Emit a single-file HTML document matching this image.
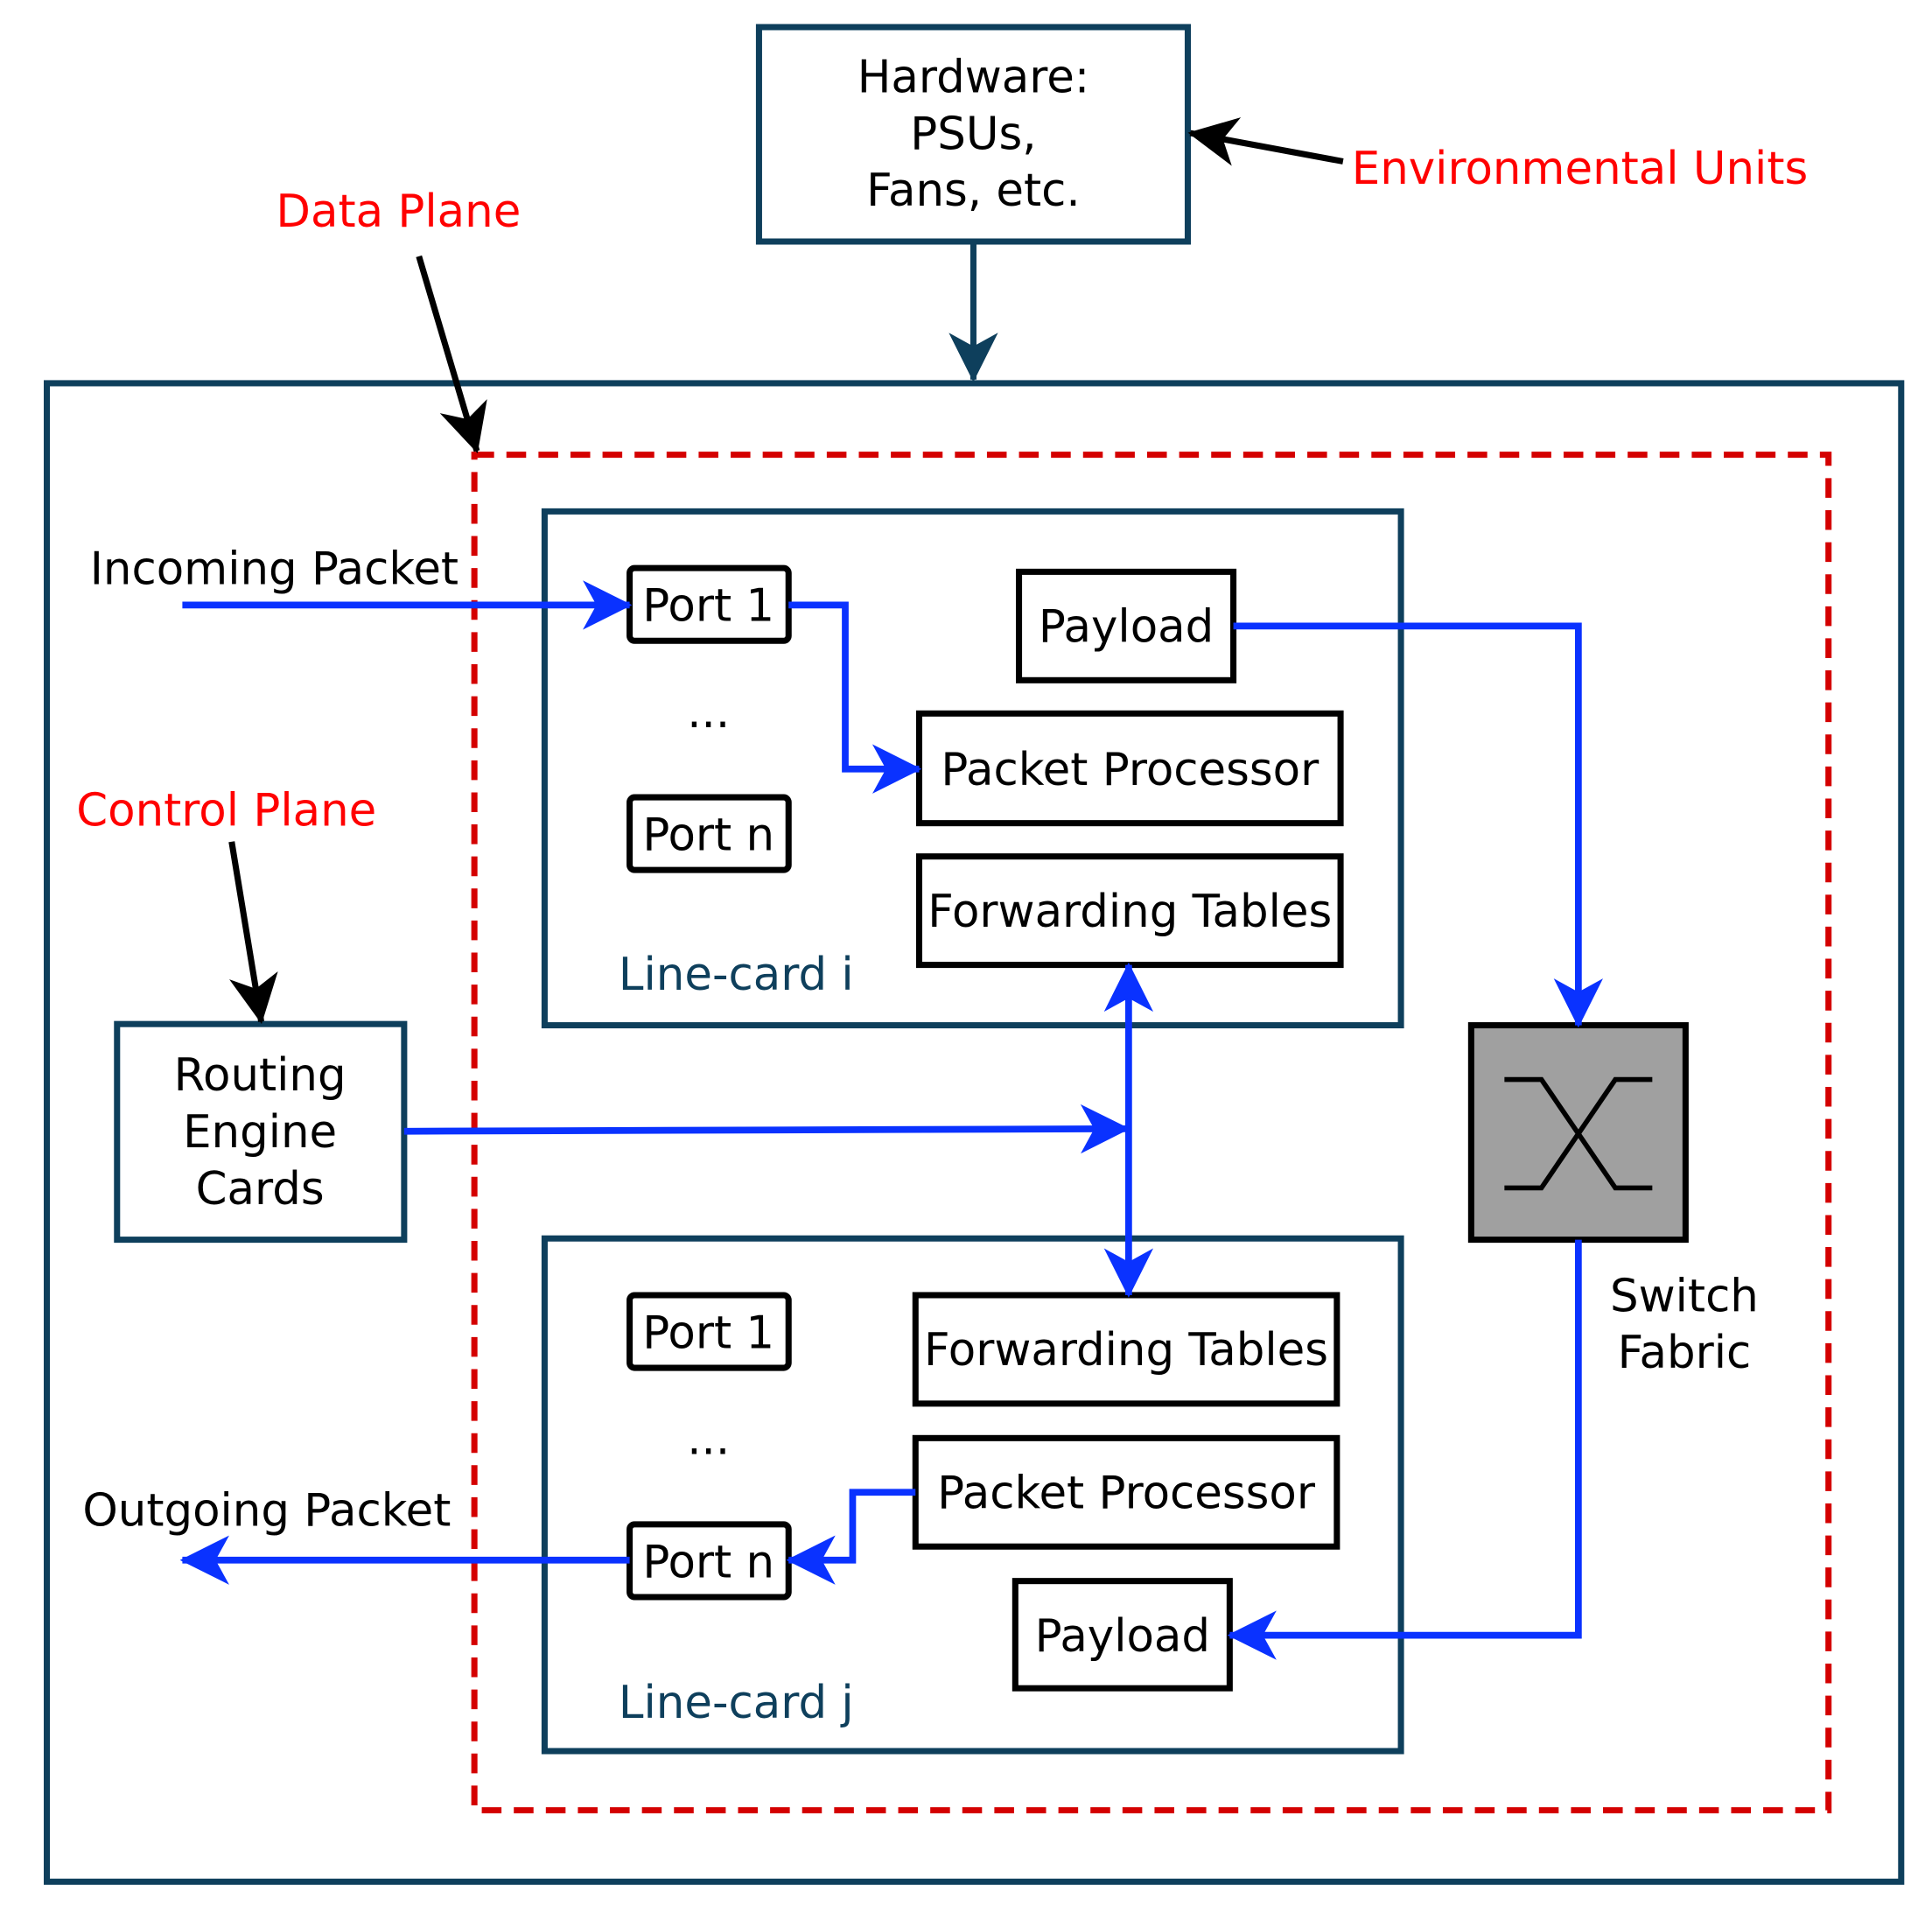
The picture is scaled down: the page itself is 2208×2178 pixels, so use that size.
<!DOCTYPE html>
<html><head><meta charset="utf-8"><style>html,body{margin:0;padding:0;background:#fff}svg{display:block}</style></head>
<body>
<svg width="2208" height="2178" viewBox="0 0 1568 1546.7" xmlns="http://www.w3.org/2000/svg" font-family="DejaVu Sans, Liberation Sans, sans-serif" font-size="36.5">
<defs>
<marker id="ab" markerUnits="userSpaceOnUse" viewBox="0 0 40 40" refX="38" refY="20" markerWidth="40" markerHeight="40" orient="auto-start-reverse"><path d="M0,0 L40,20 L0,40 L11,20 z" fill="#0a32ff"/></marker>
<marker id="ak" markerUnits="userSpaceOnUse" viewBox="0 0 40 40" refX="38" refY="20" markerWidth="40" markerHeight="40" orient="auto"><path d="M0,0 L40,20 L0,40 L11,20 z" fill="#000"/></marker>
<marker id="at" markerUnits="userSpaceOnUse" viewBox="0 0 40 40" refX="38" refY="20" markerWidth="40" markerHeight="40" orient="auto"><path d="M0,0 L40,20 L0,40 L11,20 z" fill="#0e3f5c"/></marker>
</defs>
<g fill="none" stroke="#0e3f5c" stroke-width="5">
<rect x="616" y="22" width="348" height="174"/>
<rect x="38" y="311" width="1505" height="1216"/>
<rect x="442" y="415" width="695" height="417"/>
<rect x="442" y="1005" width="695" height="416"/>
<rect x="95" y="831" width="233" height="175"/>
<path d="M790,196 V308" marker-end="url(#at)"/>
</g>
<rect x="385" y="369" width="1099" height="1100" fill="none" stroke="#d40000" stroke-width="5" stroke-dasharray="16 10"/>
<g fill="none" stroke="#000" stroke-width="5">
<rect x="511" y="461" width="129" height="59" rx="4"/>
<rect x="511" y="647" width="129" height="59" rx="4"/>
<rect x="827" y="464" width="174" height="88"/>
<rect x="746" y="579" width="342" height="89"/>
<rect x="746" y="695" width="342" height="88"/>
<rect x="511" y="1051" width="129" height="59" rx="4"/>
<rect x="511" y="1237" width="129" height="59" rx="4"/>
<rect x="743" y="1051" width="342" height="88"/>
<rect x="743" y="1167" width="342" height="88"/>
<rect x="824" y="1283" width="174" height="87"/>
<rect x="1194" y="832" width="174" height="174" fill="#a0a0a0"/>
<path d="M1090,131 L966,108" marker-end="url(#ak)"/>
<path d="M340,208 L387,366" marker-end="url(#ak)"/>
<path d="M188,683 L212,829" marker-end="url(#ak)"/>
</g>
<g fill="none" stroke="#000" stroke-width="4">
<path d="M1221,876 H1251 L1311,964 H1341"/>
<path d="M1221,964 H1251 L1311,876 H1341"/>
</g>
<g fill="none" stroke="#0a32ff" stroke-width="5.5">
<path d="M148,491 H511" marker-end="url(#ab)"/>
<path d="M640,491 H686 V624 H746" marker-end="url(#ab)"/>
<path d="M1001,508 H1281 V832" marker-end="url(#ab)"/>
<path d="M1281,1006 V1327 H998" marker-end="url(#ab)"/>
<path d="M743,1211 H692 V1266 H640" marker-end="url(#ab)"/>
<path d="M511,1266 H148" marker-end="url(#ab)"/>
<path d="M328,918 L915,916" marker-end="url(#ab)"/>
<path d="M916,783 V1051" marker-start="url(#ab)" marker-end="url(#ab)"/>
</g>
<g text-anchor="middle" fill="#000">
<text x="790" y="75">Hardware:</text>
<text x="790" y="121">PSUs,</text>
<text x="790" y="167">Fans, etc.</text>
<text x="575" y="504">Port 1</text>
<text x="575" y="590">...</text>
<text x="575" y="690">Port n</text>
<text x="914" y="521">Payload</text>
<text x="917" y="637">Packet Processor</text>
<text x="917" y="752">Forwarding Tables</text>
<text x="575" y="1094">Port 1</text>
<text x="575" y="1180">...</text>
<text x="575" y="1280">Port n</text>
<text x="914" y="1108">Forwarding Tables</text>
<text x="914" y="1224">Packet Processor</text>
<text x="911" y="1340">Payload</text>
<text x="211" y="885">Routing</text>
<text x="211" y="931">Engine</text>
<text x="211" y="977">Cards</text>
<text x="1367" y="1064">Switch</text>
<text x="1367" y="1110">Fabric</text>
</g>
<g fill="#000">
<text x="73" y="474">Incoming Packet</text>
<text x="67" y="1238">Outgoing Packet</text>
</g>
<g fill="#0e3f5c">
<text x="502" y="803">Line-card i</text>
<text x="502" y="1394">Line-card j</text>
</g>
<g fill="#ff0000">
<text x="1097" y="149">Environmental Units</text>
<text x="224" y="184">Data Plane</text>
<text x="62" y="670">Control Plane</text>
</g>
</svg>
</body></html>
